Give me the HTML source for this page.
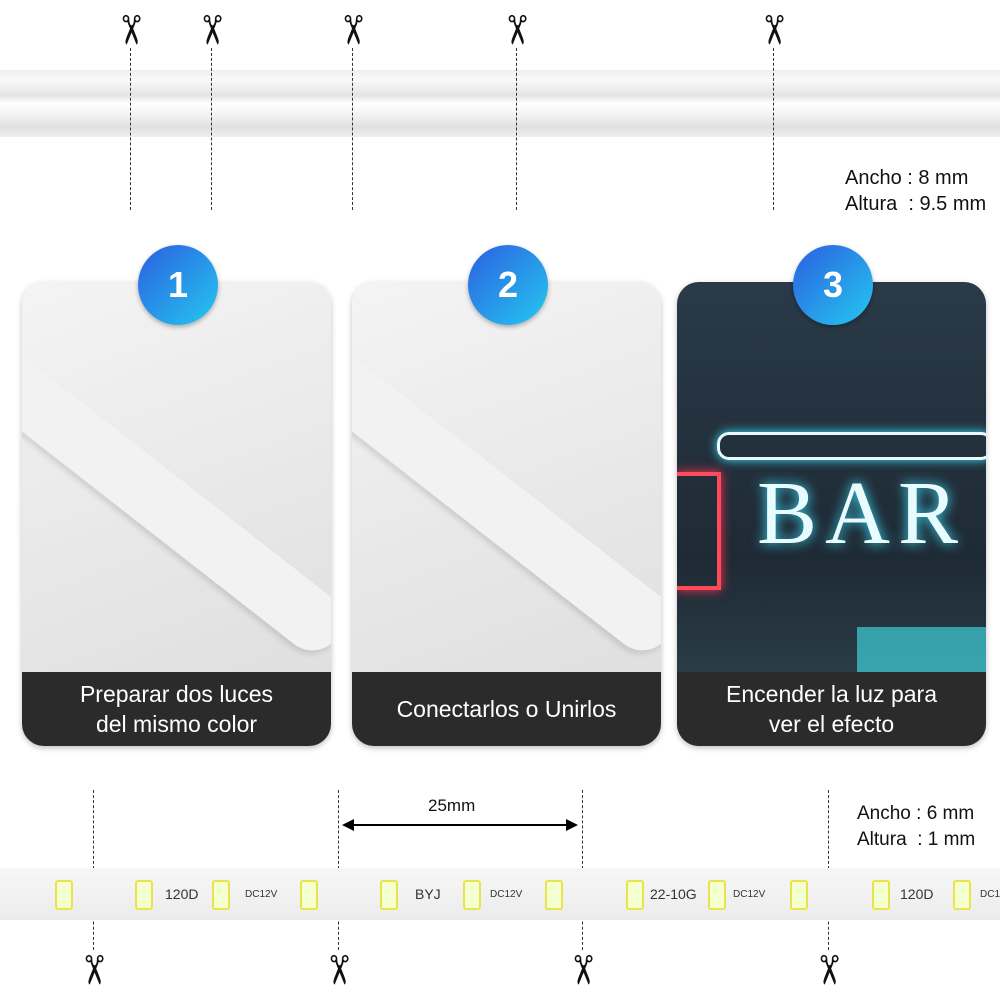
<!DOCTYPE html>
<html><head><meta charset="utf-8"><style>
body{margin:0;width:1000px;height:1000px;background:#fff;position:relative;overflow:hidden;font-family:"Liberation Sans",sans-serif}
.a{position:absolute}
.dash{position:absolute;width:0;border-left:1.5px dashed #333}
.sc{position:absolute;font-size:40px;color:#111;transform:rotate(90deg);line-height:40px;width:40px;text-align:center}
.card{position:absolute;top:282px;width:309px;height:464px;border-radius:22px;overflow:hidden;box-shadow:0 2px 6px rgba(0,0,0,.25)}
.lab{position:absolute;left:0;right:0;bottom:0;height:74px;background:#2b2b2b;color:#fff;font-size:23px;text-align:center;display:flex;align-items:center;justify-content:center;line-height:30px}
.badge{position:absolute;width:80px;height:80px;border-radius:50%;background:linear-gradient(135deg,#2b5fe0,#25c8f0);color:#fff;font-size:36px;font-weight:bold;text-align:center;line-height:80px;box-shadow:0 2px 5px rgba(0,0,0,.3)}
.t{position:absolute;font-size:20px;color:#111}
.sl{position:absolute;top:886px;font-size:13px;color:#333}
.led{position:absolute;top:880px;width:14px;height:26px;background:#f4ffd0;border:2px solid #e8e44a;border-radius:3px}
</style></head><body>
<div class="a" style="left:0;top:70px;width:1000px;height:67px;background:linear-gradient(#eeeeee,#fafafa 15%,#e4e4e4 38%,#ffffff 50%,#f0f0f0 70%,#e0e0e0 85%,#f0f0f0)"></div>
<div class="sc" style="left:110px;top:10px">✂</div><div class="dash" style="left:130px;top:48px;height:162px"></div>
<div class="sc" style="left:191px;top:10px">✂</div><div class="dash" style="left:211px;top:48px;height:162px"></div>
<div class="sc" style="left:332px;top:10px">✂</div><div class="dash" style="left:352px;top:48px;height:162px"></div>
<div class="sc" style="left:496px;top:10px">✂</div><div class="dash" style="left:516px;top:48px;height:162px"></div>
<div class="sc" style="left:753px;top:10px">✂</div><div class="dash" style="left:773px;top:48px;height:162px"></div>
<div class="t" style="left:845px;top:167px">Ancho : 8 mm</div>
<div class="t" style="left:845px;top:193px">Altura &nbsp;: 9.5 mm</div>

<div class="card" style="left:22px;background:linear-gradient(160deg,#f4f4f4,#dcdcdc)">
<div class="a" style="left:-30px;top:50px;width:460px;height:60px;background:#f2f2f2;transform:rotate(38deg);transform-origin:0 0;border-radius:30px;box-shadow:0 4px 6px rgba(0,0,0,.12)"></div>
<div class="lab">Preparar dos luces<br>del mismo color</div></div>
<div class="card" style="left:352px;background:linear-gradient(160deg,#f4f4f4,#dcdcdc)">
<div class="a" style="left:-30px;top:50px;width:460px;height:60px;background:#f2f2f2;transform:rotate(38deg);transform-origin:0 0;border-radius:30px;box-shadow:0 4px 6px rgba(0,0,0,.12)"></div>
<div class="lab">Conectarlos o Unirlos</div></div>
<div class="card" style="left:677px;background:linear-gradient(180deg,#2a3a48,#1e2a35 60%,#324850)">
<div class="a" style="left:80px;top:180px;font-size:90px;color:#e8fbff;font-family:'Liberation Serif',serif;text-shadow:0 0 12px #3ce0ff;letter-spacing:8px">BAR</div>
<div class="a" style="left:40px;top:150px;width:270px;height:22px;border:3px solid #e8fbff;border-radius:12px;box-shadow:0 0 10px #3ce0ff"></div>
<div class="a" style="left:0;top:190px;width:40px;height:110px;border:4px solid #ff4a5a;border-left:none;box-shadow:0 0 10px #ff3050"></div>
<div class="a" style="left:180px;top:345px;width:130px;height:50px;background:#3fd0d8;opacity:.7"></div>
<div class="lab">Encender la luz para<br>ver el efecto</div></div>
<div class="badge" style="left:138px;top:245px">1</div>
<div class="badge" style="left:468px;top:245px">2</div>
<div class="badge" style="left:793px;top:245px">3</div>

<div class="dash" style="left:93px;top:790px;height:160px"></div>
<div class="dash" style="left:338px;top:790px;height:160px"></div>
<div class="dash" style="left:582px;top:790px;height:160px"></div>
<div class="dash" style="left:828px;top:790px;height:160px"></div>
<div class="sc" style="left:73px;top:950px">✂</div>
<div class="sc" style="left:318px;top:950px">✂</div>
<div class="sc" style="left:562px;top:950px">✂</div>
<div class="sc" style="left:808px;top:950px">✂</div>
<svg class="a" style="left:340px;top:815px" width="240" height="20"><line x1="4" y1="10" x2="236" y2="10" stroke="#000" stroke-width="2"/><polygon points="2,10 14,4 14,16" fill="#000"/><polygon points="238,10 226,4 226,16" fill="#000"/></svg>
<div class="t" style="left:428px;top:796px;font-size:17px">25mm</div>
<div class="t" style="left:857px;top:803px;font-size:19px">Ancho : 6 mm</div>
<div class="t" style="left:857px;top:829px;font-size:19px">Altura &nbsp;: 1 mm</div>
<div class="a" style="left:0;top:868px;width:1000px;height:52px;background:linear-gradient(#f7f7f7,#ececec)"></div>
<div class="led" style="left:55px"></div><div class="led" style="left:135px"></div><div class="led" style="left:212px"></div><div class="led" style="left:300px"></div><div class="led" style="left:380px"></div><div class="led" style="left:463px"></div><div class="led" style="left:545px"></div><div class="led" style="left:626px"></div><div class="led" style="left:708px"></div><div class="led" style="left:790px"></div><div class="led" style="left:872px"></div><div class="led" style="left:953px"></div>
<div class="sl" style="left:165px;font-size:14px">120D</div>
<div class="sl" style="left:245px;font-size:10px;top:889px">DC12V</div>
<div class="sl" style="left:415px;font-size:14px">BYJ</div>
<div class="sl" style="left:490px;font-size:10px;top:889px">DC12V</div>
<div class="sl" style="left:650px;font-size:14px">22-10G</div>
<div class="sl" style="left:733px;font-size:10px;top:889px">DC12V</div>
<div class="sl" style="left:900px;font-size:14px">120D</div>
<div class="sl" style="left:980px;font-size:10px;top:889px">DC12</div>
</body></html>
